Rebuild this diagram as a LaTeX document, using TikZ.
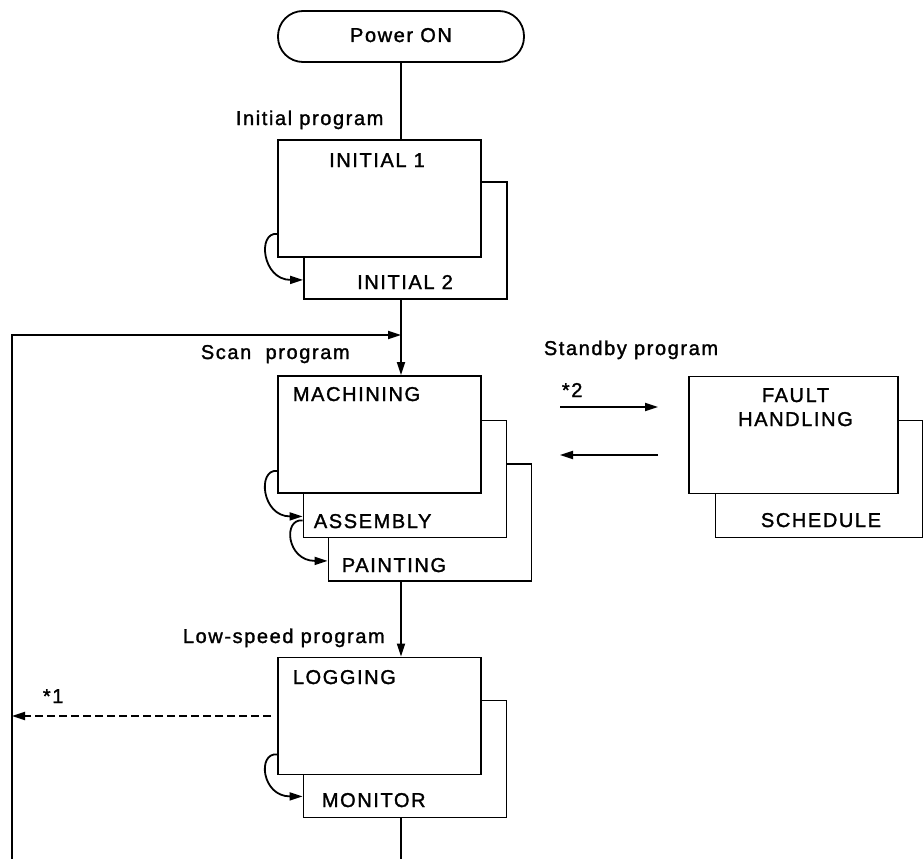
\documentclass[tikz,border=0pt]{standalone}
\usepackage{fontspec}
\setmainfont{Liberation Sans}[LetterSpace=8, FakeBold=1.5]
\usetikzlibrary{arrows.meta,positioning}

\begin{document}
\begin{tikzpicture}[x=1pt, y=-1pt, line width=1.8pt,
	every node/.style={font=\fontsize{20}{24}\selectfont, inner sep=0pt},
	box/.style={draw, fill=white, minimum width=203pt, minimum height=117pt},
	txt/.style={anchor=base west},
	arr/.style={-{Triangle[length=13pt, width=8pt]}}]
	\useasboundingbox (0,0) rectangle (924,859);
	\node[draw, rounded corners=25pt, minimum width=246pt, minimum height=51pt] (power) at (401,36.5) {};
	\node[anchor=base] (t-power) at (401,42) {Power ON};
	\node[box] (init2) at (405.5,240.5) {};
	\node[box] (init1) at (379.5,198.5) {};
	\node[box] (paint) at (430,522.5) {};
	\node[box] (assem) at (405,479) {};
	\node[box] (mach) at (379.5,434.5) {};
	\node[box] (logging-2) at (405,759) {};
	\node[box] (logging) at (379.5,716) {};
	\node[box, minimum width=207pt] (sched) at (819,479) {};
	\node[box, minimum width=209pt] (fault) at (793.5,435) {};
	\node[anchor=base] (t-init1) at (377,167) {INITIAL 1};
	\node[anchor=base] (t-init2) at (405,289) {INITIAL 2};
	\node[txt] (t-mach) at (292,401) {MACHINING};
	\node[txt] (t-assem) at (313,528) {ASSEMBLY};
	\node[txt] (t-paint) at (341,572) {PAINTING};
	\node[anchor=base, align=center] (t-fault) at (795.5,426) {FAULT\\HANDLING};
	\node[anchor=base] (t-sched) at (821,527) {SCHEDULE};
	\node[txt] (t-logging) at (292,684) {LOGGING};
	\node[txt] (t-monitor) at (321,807) {MONITOR};
	\node[txt] (l-initial) at (235,125) {Initial program};
	\node[txt] (l-scan) at (200,359) {Scan~~program};
	\node[txt] (l-standby) at (543,355) {Standby program};
	\node[txt] (l-low) at (182,643) {Low-speed program};
	\node[txt] (l-star2) at (561,397) {*2};
	\node[txt] (l-star1) at (42,703) {*1};
	\coordinate (join) at (401,335);
	\coordinate (loop-top) at (12,335);
	\coordinate (loop-end) at (12,859);
	\coordinate (exit) at (401,859);
	\coordinate (go-a) at (560,407);
	\coordinate (go-b) at (658,407);
	\coordinate (back-a) at (658,455);
	\coordinate (back-b) at (560,455);
	\draw (power.south) -- (power.south |- init1.north);
	\draw[arr] (power.south |- init2.south) -- (power.south |- mach.north);
	\draw[arr] (loop-end) -- (loop-top) -- (join);
	\draw[arr] (power.south |- paint.south) -- (power.south |- logging.north);
	\draw (power.south |- logging-2.south) -- (exit);
	\draw[arr, dash pattern=on 8pt off 4pt] ([xshift=-6pt]logging.west) -- (logging.west -| loop-top);
	\draw[arr] (go-a) -- (go-b);
	\draw[arr] (back-a) -- (back-b);
	\draw[arr] ([yshift=24pt]init1.south west) .. controls +(-20,-2) and +(-41,0) .. ([yshift=20pt]init2.south west);
	\draw[arr] ([yshift=23pt]mach.south west) .. controls +(-20,-2) and +(-41,0) .. ([yshift=22pt]assem.south west);
	\draw[arr] ([yshift=18pt]assem.south west) .. controls +(-20,-2) and +(-41,0) .. ([yshift=21pt]paint.south west);
	\draw[arr] ([yshift=21pt]logging.south west) .. controls +(-20,-2) and +(-41,0) .. ([yshift=22pt]logging-2.south west);
\end{tikzpicture}
\end{document}
